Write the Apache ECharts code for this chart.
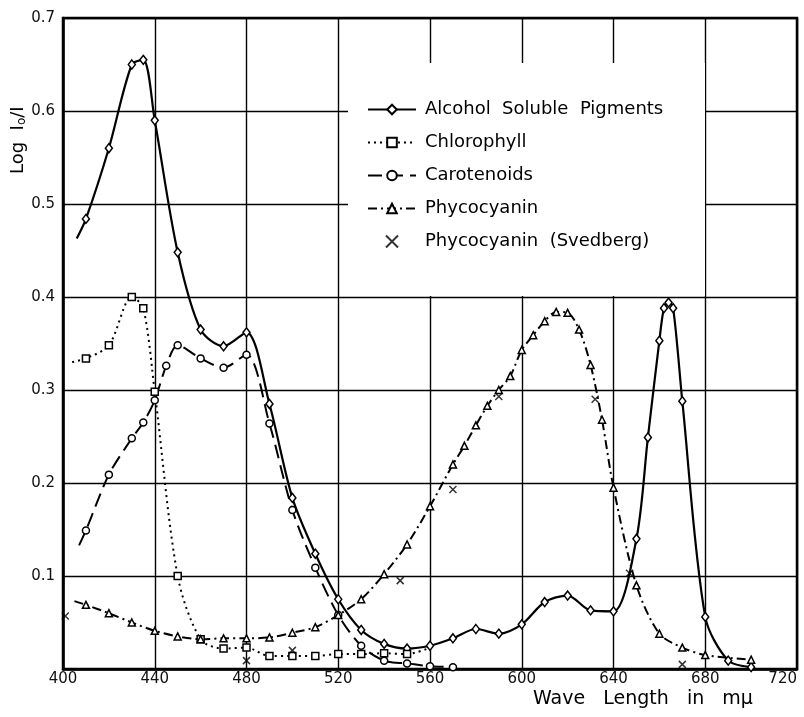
<!DOCTYPE html>
<html>
<head>
<meta charset="utf-8">
<script src="https://cdn.jsdelivr.net/npm/echarts@6/dist/echarts.min.js"></script>
<style>
  html, body { margin: 0; padding: 0; background: #fff; overflow: hidden; }
  #main { width: 804px; height: 717px; }
</style>
</head>
<body>
<div id="main"></div>
<script>
var alcoholX = [406, 410, 420, 430, 435, 440, 450, 460, 470, 480, 490, 500, 510, 520, 530, 540, 550, 560, 570, 580, 590, 600, 610, 620, 630, 640, 650, 655, 660, 662, 664, 666, 670, 680, 690, 700];
var alcoholY = [0.463, 0.484, 0.56, 0.65, 0.655, 0.59, 0.448, 0.365, 0.347, 0.362, 0.285, 0.184, 0.124, 0.075, 0.042, 0.027, 0.022, 0.025, 0.033, 0.043, 0.038, 0.048, 0.072, 0.079, 0.063, 0.062, 0.14, 0.249, 0.353, 0.388, 0.394, 0.388, 0.288, 0.056, 0.009, 0.002];

var chloroX = [404, 410, 420, 430, 435, 440, 450, 460, 470, 480, 490, 500, 510, 520, 530, 540, 550, 559];
var chloroY = [0.330, 0.334, 0.348, 0.400, 0.388, 0.298, 0.100, 0.032, 0.022, 0.023, 0.014, 0.014, 0.014, 0.016, 0.016, 0.017, 0.016, 0.022];

var caroX = [407, 410, 420, 430, 435, 440, 445, 450, 460, 470, 480, 490, 500, 510, 520, 530, 540, 550, 560, 570];
var caroY = [0.133, 0.149, 0.209, 0.248, 0.265, 0.289, 0.326, 0.348, 0.334, 0.324, 0.338, 0.264, 0.171, 0.109, 0.058, 0.025, 0.009, 0.006, 0.003, 0.002];

var phycoX = [405, 410, 420, 430, 440, 450, 460, 470, 480, 490, 500, 510, 520, 530, 540, 550, 560, 570, 575, 580, 585, 590, 595, 600, 605, 610, 615, 620, 625, 630, 635, 640, 650, 660, 670, 680, 700];
var phycoY = [0.073, 0.069, 0.060, 0.050, 0.041, 0.035, 0.032, 0.033, 0.033, 0.034, 0.039, 0.045, 0.058, 0.075, 0.102, 0.134, 0.175, 0.220, 0.240, 0.262, 0.283, 0.300, 0.315, 0.343, 0.359, 0.374, 0.384, 0.383, 0.365, 0.327, 0.268, 0.195, 0.090, 0.038, 0.023, 0.015, 0.010];

var svedX = [401, 480, 500, 547, 570, 590, 632, 647, 670];
var svedY = [0.057, 0.009, 0.020, 0.095, 0.193, 0.293, 0.290, 0.103, 0.005];

// first / last points that only carry the drawn line, no marker
var alcoholBare = [0];
var chloroBare = [0, 17];
var caroBare = [0];
var phycoBare = [0];

var seriesNames = ['Alcohol  Soluble  Pigments', 'Chlorophyll', 'Carotenoids', 'Phycocyanin', 'Phycocyanin  (Svedberg)'];

function pairs(xs, ys, bare) {
  return xs.map(function (x, i) {
    var item = { value: [x, ys[i]] };
    if (bare && bare.indexOf(i) >= 0) item.symbol = 'none';
    return item;
  });
}

var chartDom = document.getElementById('main');
var myChart = echarts.init(chartDom);
var option;

var axisFont = { fontFamily: 'DejaVu Sans', fontSize: 15, color: '#111' };
var markStyle = { color: '#fff', borderColor: '#000', borderWidth: 1.5 };

option = {
  animation: false,
  backgroundColor: '#fff',
  grid: {
    left: 63, right: 7, top: 18, bottom: 48,
    containLabel: false, outerBoundsMode: 'none',
    show: true, borderColor: '#000', borderWidth: 2.5
  },
  xAxis: {
    type: 'value',
    min: 400, max: 720, interval: 40,
    axisLine: { show: true, lineStyle: { color: '#000', width: 2.5 } },
    axisTick: { show: false },
    axisLabel: Object.assign({ margin: 3, alignMaxLabel: 'right' }, axisFont),
    splitLine: { show: true, lineStyle: { color: '#000', width: 1.4 } }
  },
  yAxis: {
    type: 'value',
    min: 0, max: 0.7, interval: 0.1,
    axisLine: { show: true, lineStyle: { color: '#000', width: 2.5 } },
    axisTick: { show: false },
    axisLabel: Object.assign({
      margin: 8,
      formatter: function (v) { return v === 0 ? '' : v.toFixed(1); }
    }, axisFont),
    splitLine: { show: true, lineStyle: { color: '#000', width: 1.4 } }
  },
  legend: {
    orient: 'vertical',
    left: 362, top: 94, z: 6,
    itemWidth: 48, itemHeight: 12, itemGap: 12,
    textStyle: { fontFamily: 'DejaVu Sans', fontSize: 18, color: '#000', lineHeight: 21, padding: [0, 0, 0, 4] },
    data: seriesNames
  },
  graphic: [
    {
      type: 'rect', z: 3, silent: true,
      shape: { x: 348, y: 63, width: 357, height: 233 },
      style: { fill: '#fff' }
    },
    {
      type: 'text', z: 10,
      left: 533, top: 690,
      style: { text: 'Wave   Length   in   m\u03bc', font: '19px "DejaVu Sans"', fill: '#000' }
    },
    {
      type: 'text', z: 10,
      x: 9, y: 174, rotation: Math.PI / 2,
      style: {
        text: '{a|Log  I}{s|o}{a|/I}',
        fill: '#000',
        rich: {
          a: { fontFamily: 'DejaVu Sans', fontSize: 18, color: '#000' },
          s: { fontFamily: 'DejaVu Sans', fontSize: 12, color: '#000', padding: [7, 0, 0, 0] }
        }
      }
    }
  ],
  series: [
    {
      name: seriesNames[0],
      type: 'line', z: 4,
      smooth: 0.3,
      symbol: 'diamond', symbolSize: [7, 9], showAllSymbol: true,
      lineStyle: { color: '#000', width: 2.2, type: 'solid' },
      itemStyle: markStyle,
      data: pairs(alcoholX, alcoholY, alcoholBare)
    },
    {
      name: seriesNames[1],
      type: 'line', z: 4,
      smooth: 0.3,
      symbol: 'rect', symbolSize: 7, showAllSymbol: true,
      lineStyle: { color: '#000', width: 2, type: [2, 4] },
      itemStyle: markStyle,
      data: pairs(chloroX, chloroY, chloroBare)
    },
    {
      name: seriesNames[2],
      type: 'line', z: 4,
      smooth: 0.3,
      symbol: 'circle', symbolSize: 7, showAllSymbol: true,
      lineStyle: { color: '#000', width: 2, type: [14, 7] },
      itemStyle: markStyle,
      data: pairs(caroX, caroY, caroBare)
    },
    {
      name: seriesNames[3],
      type: 'line', z: 4,
      smooth: 0.3,
      symbol: 'triangle', symbolSize: 7, showAllSymbol: true,
      lineStyle: { color: '#000', width: 2, type: [9, 4, 2, 4] },
      itemStyle: markStyle,
      data: pairs(phycoX, phycoY, phycoBare)
    },
    {
      name: seriesNames[4],
      type: 'scatter', z: 4,
      symbol: 'path://M0,0L10,10M10,0L0,10', symbolSize: 7,
      itemStyle: { color: 'none', borderColor: '#000', borderWidth: 1.5 },
      data: pairs(svedX, svedY)
    }
  ]
};

option && myChart.setOption(option);
</script>
</body>
</html>
